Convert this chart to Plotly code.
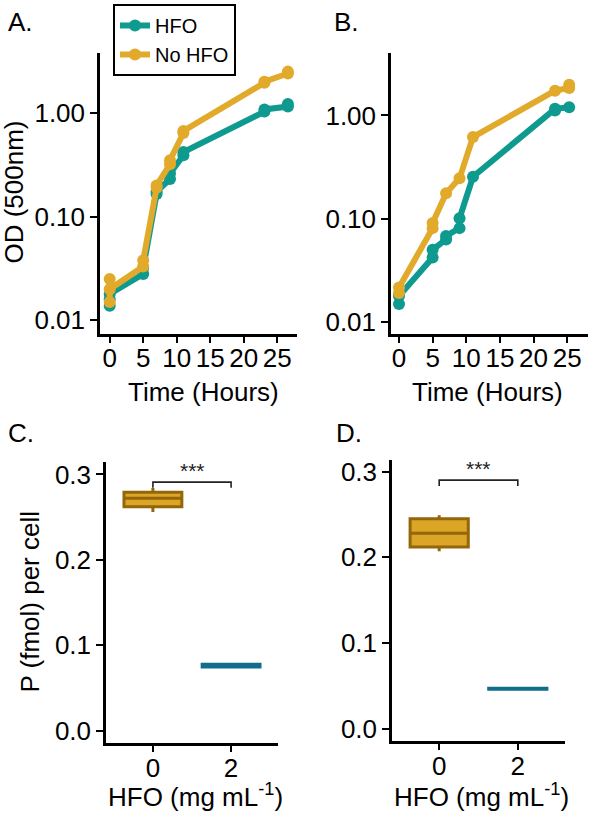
import plotly.graph_objects as go

# ---------------- data ----------------
# Panel A (OD, log scale)
a_hfo_time = [0, 0, 0, 5, 5, 7, 7, 9, 9, 11, 11, 23.1, 23.1, 26.6, 26.6]
a_hfo_od = [0.0138, 0.016, 0.018, 0.028, 0.032, 0.165, 0.175, 0.23, 0.26, 0.39, 0.42, 1.03, 1.08, 1.15, 1.22]
a_nohfo_time = [0, 0, 0, 5, 5, 7, 7, 9, 9, 11, 11, 23.1, 23.1, 26.6, 26.6]
a_nohfo_od = [0.025, 0.015, 0.020, 0.033, 0.038, 0.19, 0.20, 0.32, 0.35, 0.64, 0.67, 1.95, 2.0, 2.4, 2.5]

# Panel B (OD, log scale)
b_hfo_time = [0, 0, 5, 5, 7, 7, 9, 9, 11, 23.2, 23.2, 25.3]
b_hfo_od = [0.0149, 0.0178, 0.042, 0.050, 0.063, 0.068, 0.081, 0.101, 0.255, 1.12, 1.16, 1.2]
b_nohfo_time = [0, 0, 5, 5, 7, 9, 11, 23.2, 25.3, 25.3]
b_nohfo_od = [0.019, 0.0215, 0.081, 0.091, 0.176, 0.246, 0.618, 1.74, 1.85, 1.99]

od_tickvals = [0.01, 0.1, 1.0]
od_ticktext = ["0.01", "0.10", "1.00"]
time_ticks = [0, 5, 10, 15, 20, 25]

# Panels C, D (box summaries: P per cell)
hfo_positions = [1, 2]
hfo_ticktext = ["0", "2"]
p_ticks = [0.0, 0.1, 0.2, 0.3]
p_ticktext = ["0.0", "0.1", "0.2", "0.3"]

c_lower = [0.256, 0.0735]
c_q1 = [0.262, 0.0745]
c_median = [0.272, 0.0762]
c_q3 = [0.279, 0.0778]
c_upper = [0.284, 0.0795]

d_lower = [0.207, 0.0455]
d_q1 = [0.212, 0.0458]
d_median = [0.228, 0.0465]
d_q3 = [0.245, 0.0472]
d_upper = [0.249, 0.0475]

c_bracket_y = [0.2845, 0.291, 0.291, 0.2845]
d_bracket_y = [0.283, 0.290, 0.290, 0.283]
sig_label = "***"

# ---------------- style ----------------
W, H = 590, 815
TEAL = "#0f9a90"
GOLD = "#e2aa2b"
BOX_GOLD_FILL = "#dba526"
BOX_GOLD_LINE = "#946609"
BOX_TEAL = "#106e8c"
FONT = "Liberation Sans, Arial, Helvetica, sans-serif"
LW = 6
MS = 12


def px_x(p):
    return p / W


def px_y(p):
    return 1 - p / H


fig = go.Figure()

fig.add_trace(go.Scatter(x=a_hfo_time, y=a_hfo_od, name="HFO", legendgroup="HFO",
                         line=dict(color=TEAL, width=LW), marker=dict(color=TEAL, size=MS),
                         mode="lines+markers", xaxis="x", yaxis="y"))
fig.add_trace(go.Scatter(x=a_nohfo_time, y=a_nohfo_od, name="No HFO", legendgroup="NoHFO",
                         line=dict(color=GOLD, width=LW), marker=dict(color=GOLD, size=MS),
                         mode="lines+markers", xaxis="x", yaxis="y"))
fig.add_trace(go.Scatter(x=b_hfo_time, y=b_hfo_od, name="HFO", legendgroup="HFO", showlegend=False,
                         line=dict(color=TEAL, width=LW), marker=dict(color=TEAL, size=MS),
                         mode="lines+markers", xaxis="x2", yaxis="y2"))
fig.add_trace(go.Scatter(x=b_nohfo_time, y=b_nohfo_od, name="No HFO", legendgroup="NoHFO", showlegend=False,
                         line=dict(color=GOLD, width=LW), marker=dict(color=GOLD, size=MS),
                         mode="lines+markers", xaxis="x2", yaxis="y2"))


def add_boxes(lower, q1, med, q3, upper, xa, ya):
    cols = [(BOX_GOLD_FILL, BOX_GOLD_LINE), (BOX_TEAL, BOX_TEAL)]
    for i, pos in enumerate(hfo_positions):
        fill, lc = cols[i]
        fig.add_trace(go.Box(x=[pos], q1=[q1[i]], median=[med[i]], q3=[q3[i]],
                             lowerfence=[lower[i]], upperfence=[upper[i]],
                             width=0.74, whiskerwidth=0, fillcolor=fill,
                             line=dict(color=lc, width=3), boxpoints=False,
                             showlegend=False, xaxis=xa, yaxis=ya))


add_boxes(c_lower, c_q1, c_median, c_q3, c_upper, "x3", "y3")
add_boxes(d_lower, d_q1, d_median, d_q3, d_upper, "x4", "y4")

bracket_x = [hfo_positions[0], hfo_positions[0], hfo_positions[1], hfo_positions[1]]
fig.add_trace(go.Scatter(x=bracket_x, y=c_bracket_y, mode="lines", line=dict(color="#222222", width=1.6),
                         showlegend=False, xaxis="x3", yaxis="y3"))
fig.add_trace(go.Scatter(x=bracket_x, y=d_bracket_y, mode="lines", line=dict(color="#222222", width=1.6),
                         showlegend=False, xaxis="x4", yaxis="y4"))

axis_common = dict(showline=True, linecolor="black", linewidth=2.5, ticks="outside",
                   ticklen=7, tickwidth=2, tickcolor="black", showgrid=False, zeroline=False,
                   tickfont=dict(family=FONT, size=26, color="black"), fixedrange=True)

layout = dict(
    width=W, height=H, margin=dict(l=0, r=0, t=0, b=0),
    paper_bgcolor="white", plot_bgcolor="white",
    font=dict(family=FONT, color="black"),
    xaxis=dict(domain=[px_x(100), px_x(297)], range=[-1.45, 27.96], anchor="y",
               tickvals=time_ticks, ticklabelstandoff=-7, **axis_common),
    yaxis=dict(domain=[px_y(333), px_y(50)], type="log", range=[-2.127, 0.581], anchor="x",
               tickvals=od_tickvals, ticktext=od_ticktext, **axis_common),
    xaxis2=dict(domain=[px_x(391), px_x(588)], range=[-1.19, 28.1], anchor="y2",
                tickvals=time_ticks, ticklabelstandoff=-7, **axis_common),
    yaxis2=dict(domain=[px_y(333), px_y(50)], type="log", range=[-2.113, 0.609], anchor="x2",
                tickvals=od_tickvals, ticktext=od_ticktext, **axis_common),
    xaxis3=dict(domain=[px_x(106), px_x(278)], range=[0.4, 2.6], anchor="y3",
                tickvals=hfo_positions, ticktext=hfo_ticktext, ticklabelstandoff=-6, **axis_common),
    yaxis3=dict(domain=[px_y(745), px_y(462)], range=[-0.014, 0.315], anchor="x3",
                tickvals=p_ticks, ticktext=p_ticktext, **axis_common),
    xaxis4=dict(domain=[px_x(392), px_x(565)], range=[0.4, 2.6], anchor="y4",
                tickvals=hfo_positions, ticktext=hfo_ticktext, ticklabelstandoff=-6, **axis_common),
    yaxis4=dict(domain=[px_y(743), px_y(460)], range=[-0.0139, 0.3139], anchor="x4",
                tickvals=p_ticks, ticktext=p_ticktext, **axis_common),
    legend=dict(x=px_x(113), y=px_y(1), xanchor="left", yanchor="top",
                bordercolor="black", borderwidth=2, bgcolor="white",
                font=dict(family=FONT, size=20, color="black"), tracegroupgap=0),
    showlegend=True,
)
fig.update_layout(**layout)

ann = []


def text(t, x, y, size=26, angle=0, xanchor="center"):
    ann.append(dict(text=t, x=px_x(x), y=px_y(y), xref="paper", yref="paper",
                    xanchor=xanchor, yanchor="middle", showarrow=False, textangle=angle,
                    font=dict(family=FONT, size=size, color="black")))


# panel letters
text("A.", 6, 19, size=26, xanchor="left")
text("B.", 332, 19, size=26, xanchor="left")
text("C.", 6, 433, size=26, xanchor="left")
text("D.", 334, 433, size=26, xanchor="left")
# axis titles
text("OD (500nm)", 14, 191, angle=-90)
text("Time (Hours)", 203, 392)
text("Time (Hours)", 487, 392)
text("P (fmol) per cell", 30, 603, angle=-90)
text("HFO (mg mL<sup>-1</sup>)", 195, 798)
text("HFO (mg mL<sup>-1</sup>)", 481, 798)

fig.update_layout(annotations=ann)

# significance stars (data coordinates)
fig.add_annotation(text=sig_label, x=1.5, y=0.304, xref="x3", yref="y3", showarrow=False,
                   font=dict(family=FONT, size=21, color="#222222"), yanchor="middle")
fig.add_annotation(text=sig_label, x=1.5, y=0.303, xref="x4", yref="y4", showarrow=False,
                   font=dict(family=FONT, size=21, color="#222222"), yanchor="middle")

fig.write_html("out.html")
